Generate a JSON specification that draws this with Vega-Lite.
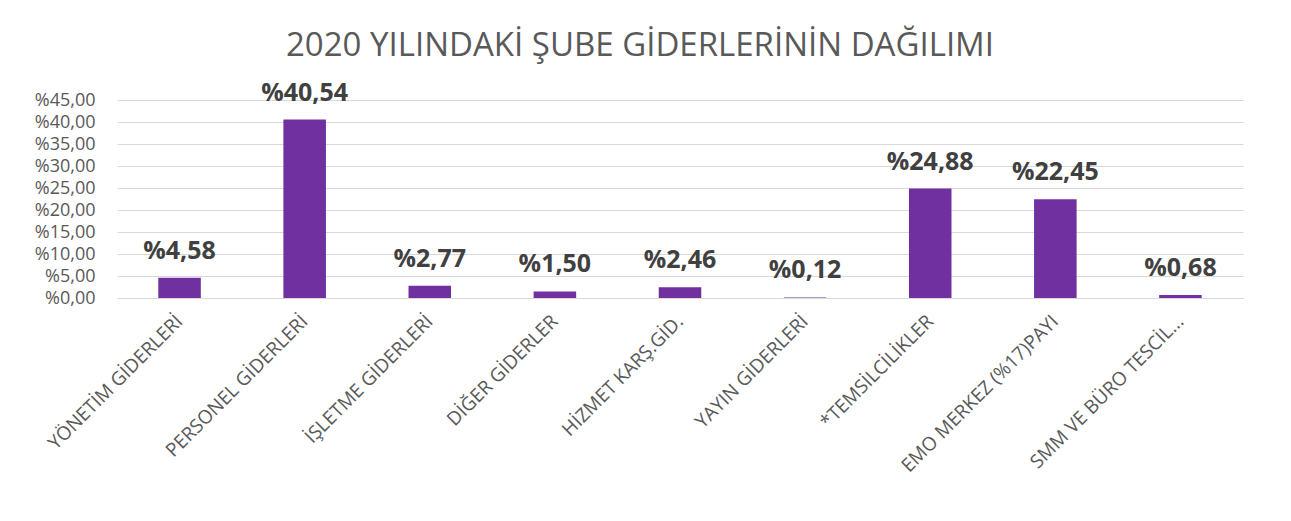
{
  "$schema": "https://vega.github.io/schema/vega-lite/v6.json",
  "width": 1126,
  "height": 198,
  "autosize": {"type": "none"},
  "padding": {"left": 117, "top": 100, "right": 48, "bottom": 223},
  "background": "#ffffff",
  "title": {
    "text": "2020 YILINDAKİ ŞUBE GİDERLERİNİN DAĞILIMI",
    "font": "Open Sans",
    "fontSize": 33,
    "fontWeight": "normal",
    "color": "#595959",
    "anchor": "middle",
    "dx": -40,
    "offset": 18
  },
  "data": {
    "values": [
      {"kalem": "YÖNETİM GİDERLERİ", "oran": 4.58},
      {"kalem": "PERSONEL GİDERLERİ", "oran": 40.54},
      {"kalem": "İŞLETME GİDERLERİ", "oran": 2.77},
      {"kalem": "DİĞER GİDERLER", "oran": 1.50},
      {"kalem": "HİZMET KARŞ.GİD.", "oran": 2.46},
      {"kalem": "YAYIN GİDERLERİ", "oran": 0.12},
      {"kalem": "*TEMSİLCİLİKLER", "oran": 24.88},
      {"kalem": "EMO MERKEZ (%17)PAYI", "oran": 22.45},
      {"kalem": "SMM VE BÜRO TESCİL...", "oran": 0.68}
    ]
  },
  "transform": [
    {"calculate": "'%' + replace(format(datum.oran, '.2f'), '.', ',')", "as": "etiket"}
  ],
  "encoding": {
    "x": {
      "field": "kalem",
      "type": "nominal",
      "sort": null,
      "scale": {"paddingInner": 0.66, "paddingOuter": 0.33},
      "axis": {
        "title": null,
        "labelAngle": -45,
        "labelAlign": "right",
        "labelBaseline": "middle",
        "labelPadding": 20,
        "labelFont": "Open Sans",
        "labelFontSize": 19,
        "labelColor": "#595959",
        "labelLimit": 300,
        "domain": true,
        "domainColor": "#d9d9d9",
        "ticks": false
      }
    },
    "y": {
      "field": "oran",
      "type": "quantitative",
      "scale": {"domain": [0, 45], "nice": false},
      "axis": {
        "title": null,
        "values": [0, 5, 10, 15, 20, 25, 30, 35, 40, 45],
        "labelExpr": "'%' + replace(format(datum.value, '.2f'), '.', ',')",
        "labelFont": "Open Sans",
        "labelFontSize": 18,
        "labelColor": "#595959",
        "labelPadding": 22,
        "labelOverlap": false,
        "domain": false,
        "ticks": false,
        "grid": true,
        "gridColor": "#d9d9d9",
        "gridWidth": 1
      }
    }
  },
  "layer": [
    {"mark": {"type": "bar", "color": "#7030A0"}},
    {
      "mark": {"type": "text", "dy": -14, "baseline": "bottom", "font": "Open Sans", "fontSize": 25, "fontWeight": "bold", "color": "#404040"},
      "encoding": {"text": {"field": "etiket"}}
    }
  ],
  "config": {"view": {"stroke": null}}
}
